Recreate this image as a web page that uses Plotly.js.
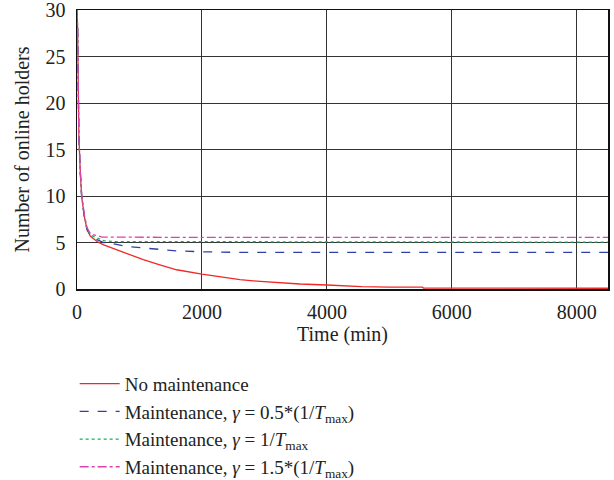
<!DOCTYPE html>
<html>
<head>
<meta charset="utf-8">
<script src="https://cdn.plot.ly/plotly-3.0.1.min.js"></script>
<style>html,body{margin:0;padding:0;background:#fff;}#chart{width:614px;height:480px;}</style>
</head>
<body>
<div id="chart"></div>
<script>
// Series names
const seriesNames = [
  "No maintenance",
  "Maintenance, <i>γ</i> = 0.5*(1/<i>T</i><sub>max</sub>)",
  "Maintenance, <i>γ</i> = 1/<i>T</i><sub>max</sub>",
  "Maintenance, <i>γ</i> = 1.5*(1/<i>T</i><sub>max</sub>)"
];

// No maintenance
const tNone = [0, 10, 20, 30, 53, 75, 117, 160, 213, 320, 427, 640, 853, 1061, 1300, 1595, 2000, 2341, 2608, 2875, 3248, 3568, 4000, 4555, 5000, 5530, 5545, 7000, 8500];
const yNone = [30, 28, 22, 16.5, 12.5, 9.9, 7.8, 6.4, 5.7, 5.1, 4.75, 4.2, 3.6, 3.15, 2.65, 2.07, 1.6, 1.25, 1.0, 0.85, 0.65, 0.54, 0.43, 0.25, 0.2, 0.2, 0.1, 0.1, 0.08];

// Maintenance, gamma = 0.5/Tmax
const tHalf = [0, 10, 20, 30, 53, 75, 117, 160, 213, 320, 427, 528, 795, 1061, 1328, 1595, 2000, 2500, 4000, 6000, 8500];
const yHalf = [30, 28, 22, 16.2, 12.5, 9.9, 7.8, 6.4, 5.8, 5.3, 5.0, 4.93, 4.57, 4.4, 4.2, 4.1, 4.0, 3.95, 3.93, 3.93, 3.93];

// Maintenance, gamma = 1/Tmax
const tOne = [0, 10, 20, 30, 53, 75, 117, 160, 213, 320, 427, 600, 2000, 4000, 6000, 8500];
const yOne = [30, 28, 22, 16.3, 12.6, 10.0, 7.9, 6.5, 5.8, 5.5, 5.2, 5.1, 5.08, 5.05, 5.03, 5.03];

// Maintenance, gamma = 1.5/Tmax
const tOneHalf = [0, 10, 20, 30, 53, 75, 117, 160, 213, 300, 400, 2000, 4000, 6000, 8500];
const yOneHalf = [30, 28, 22, 16.4, 12.7, 10.1, 8.0, 6.6, 5.95, 5.75, 5.58, 5.55, 5.55, 5.55, 5.55];

// Axis ticks
const xTicks = [0, 2000, 4000, 6000, 8000];
const yTicks = [0, 5, 10, 15, 20, 25, 30];

const font = "'Liberation Serif', 'Times New Roman', serif";
const fs = 20;

const traces = [
  {x: tNone, y: yNone, name: seriesNames[0], mode: "lines", line: {color: "#f02828", width: 1.3, dash: "solid"}},
  {x: tHalf, y: yHalf, name: seriesNames[1], mode: "lines", line: {color: "#3040a8", width: 1.3, dash: "dash"}},
  {x: tOne, y: yOne, name: seriesNames[2], mode: "lines", line: {color: "#10b060", width: 1.3, dash: "dot"}},
  {x: tOneHalf, y: yOneHalf, name: seriesNames[3], mode: "lines", line: {color: "#e040b0", width: 1.3, dash: "dashdot"}}
];

const layout = {
  width: 614, height: 480,
  margin: {l: 77, r: 6, t: 10, b: 191, pad: 0},
  paper_bgcolor: "#fff", plot_bgcolor: "#fff",
  font: {family: font, size: fs, color: "#222"},
  showlegend: true,
  legend: {
    xref: "paper", x: -0.0044, xanchor: "left",
    yref: "container", y: 0.24, yanchor: "top",
    font: {family: font, size: 19, color: "#222"},
    bgcolor: "rgba(0,0,0,0)", borderwidth: 0, tracegroupgap: 0, itemwidth: 40
  },
  xaxis: {
    range: [0, 8500], tickvals: xTicks, ticktext: xTicks.map(String),
    showgrid: true, gridcolor: "#333", gridwidth: 1,
    showline: true, linecolor: "#111", linewidth: 1.5, mirror: true,
    zeroline: false, ticks: "", ticklabelstandoff: 4, ticklabeloverflow: "allow",
    tickfont: {family: font, size: fs, color: "#222"},
    title: {text: "Time (min)", font: {family: font, size: fs, color: "#222"}, standoff: 0}
  },
  yaxis: {
    range: [0, 30], tickvals: yTicks, ticktext: yTicks.map(String),
    showgrid: true, gridcolor: "#333", gridwidth: 1,
    showline: true, linecolor: "#111", linewidth: 1.5, mirror: true,
    zeroline: false, ticks: "", ticklabelstandoff: 6, ticklabeloverflow: "allow",
    tickfont: {family: font, size: fs, color: "#222"},
    title: {text: "Number of online holders", font: {family: font, size: fs, color: "#222"}, standoff: 10}
  }
};

Plotly.newPlot("chart", traces, layout, {displayModeBar: false, staticPlot: true});
</script>
</body>
</html>
